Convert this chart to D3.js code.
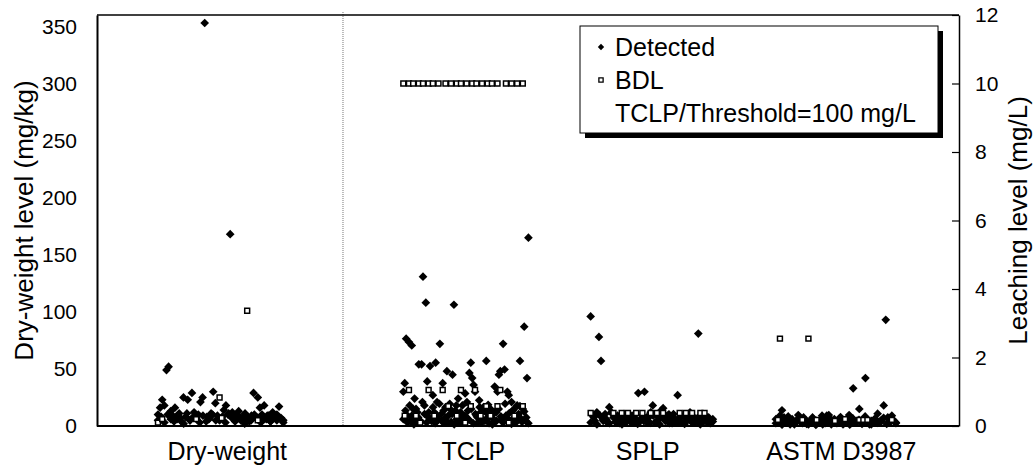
<!DOCTYPE html>
<html>
<head>
<meta charset="utf-8">
<script src="https://cdn.jsdelivr.net/npm/d3@7"></script>
<style>
  body { margin: 0; background: #fff; }
  text { font-family: Arial, "Liberation Sans", sans-serif; fill: #000; }
</style>
</head>
<body>
<script>
const width = 1036;
const height = 470;

// categories along the x axis (positions are sample numbers)
const categories = ["Dry-weight", "TCLP", "SPLP", "ASTM D3987"];
const catLabelPos = [62, 179, 262, 354];
const catRange = [[29, 88.6], [145.7, 205.2], [234.8, 292.9], [322.9, 380]];
const separatorPos = 117;

const leftTicks = [0, 50, 100, 150, 200, 250, 300, 350];
const rightTicks = [0, 2, 4, 6, 8, 10, 12];

// Dry-weight (mg/kg)
const dwDetected = [10, 16, 23, 18, 49, 52, 13, 9, 16, 6, 11, 4, 25, 8, 23, 5, 29, 12, 7, 10,
  21, 25, 353, 8, 6, 11, 30, 20, 9, 5, 7, 14, 18, 10, 168, 12, 6, 9, 13, 5,
  8, 11, 6, 4, 9, 29, 7, 25, 16, 10, 18, 6, 9, 4, 12, 7, 10, 17, 7, 5];
const dwDetectedLow = [5, 8, 3, 10, 6, 4, 9, 7, 2, 11, 5, 8, 6, 3, 9, 4, 7, 10, 5, 6,
  8, 3, 11, 7, 4, 9, 6, 2, 8, 5, 10, 7, 3, 6, 9, 4, 8, 5, 7, 3];
const dwBdl = [[0, 3], [2, 6], [18, 6], [29, 25], [30, 7], [42, 101], [47, 5]];

// TCLP (mg/L)
const tclpDetected = [1.0, 1.25, 2.55, 0.3, 2.45, 0.15, 2.35, 0.5, 0.8, 0.2,
  0.4, 1.8, 0.1, 1.8, 4.36, 0.6, 3.6, 1.3, 0.25, 1.75,
  0.15, 0.9, 0.4, 1.85, 0.7, 0.2, 2.4, 0.35, 1.25, 0.1,
  0.55, 1.6, 0.3, 0.65, 0.12, 1.5, 3.54, 0.45, 0.2, 0.8,
  0.1, 0.3, 0.6, 0.15, 0.95, 0.25, 0.45, 1.55, 1.85, 1.4,
  1.2, 1.0, 0.3, 0.1, 0.75, 0.4, 0.2, 0.55, 0.15, 1.9,
  0.35, 0.08, 0.5, 0.25, 0.12, 1.15, 0.4, 1.0, 1.5, 1.6,
  0.2, 2.4, 1.65, 0.3, 1.0, 0.9, 0.15, 0.7, 0.45, 0.25,
  0.1, 0.6, 0.35, 1.9, 0.2, 0.5, 2.9, 0.15, 1.4, 5.5];
const tclpDetectedLow = [0.2, 0.45, 0.1, 0.6, 0.3, 0.05, 0.5, 0.25, 0.15, 0.7,
  0.35, 0.1, 0.4, 0.2, 0.55, 0.08, 0.3, 0.65, 0.15, 0.45,
  0.25, 0.1, 0.5, 0.35, 0.05, 0.6, 0.2, 0.4, 0.12, 0.3,
  0.7, 0.18, 0.5, 0.08, 0.35, 0.25, 0.55, 0.1, 0.45, 0.2,
  0.62, 0.3, 0.05, 0.4, 0.15, 0.5, 0.28, 0.1, 0.65, 0.22,
  0.38, 0.06, 0.48, 0.18, 0.3, 0.58, 0.12, 0.42, 0.25, 0.08];
const tclpBdl = [[0, 10], [4, 10], [7, 10], [11, 10], [14, 10], [18, 10], [21, 10], [25, 10],
  [30, 10], [34, 10], [38, 10], [41, 10], [45, 10], [49, 10], [52, 10], [56, 10], [60, 10], [63, 10], [67, 10],
  [73, 10], [77, 10], [81, 10], [85, 10],
  [4, 1.05], [18, 1.05], [28, 1.05], [41, 1.05], [51, 1.05], [69, 1.05],
  [32, 0.58], [48, 0.58], [59, 0.58], [67, 0.58], [85, 0.58],
  [1, 0.3], [9, 0.3], [22, 0.3], [38, 0.3], [55, 0.3], [62, 0.3], [79, 0.3],
  [12, 0.1], [44, 0.1], [75, 0.1]];

// SPLP (mg/L)
const splpDetected = [3.2, 0.3, 0.15, 0.4, 2.6, 1.9, 0.2, 0.35, 0.1, 0.55,
  0.4, 0.25, 0.12, 0.3, 0.08, 0.2, 0.35, 0.1, 0.25, 0.15,
  0.3, 0.1, 0.2, 0.96, 0.15, 0.3, 1.0, 0.12, 0.25, 0.4,
  0.6, 0.1, 0.3, 0.2, 0.45, 0.52, 0.15, 0.3, 0.08, 0.2,
  0.35, 0.12, 0.9, 0.25, 0.1, 0.3, 0.15, 0.2, 0.4, 0.1,
  0.25, 0.15, 2.7, 0.3, 0.1, 0.2, 0.12, 0.25, 0.08, 0.13];
const splpDetectedLow = [0.1, 0.25, 0.05, 0.3, 0.15, 0.2, 0.08, 0.35, 0.12, 0.22,
  0.05, 0.28, 0.18, 0.1, 0.32, 0.06, 0.2, 0.14, 0.26, 0.09,
  0.3, 0.12, 0.05, 0.24, 0.16, 0.34, 0.08, 0.2, 0.11, 0.28,
  0.06, 0.18, 0.3, 0.1, 0.22, 0.05, 0.15, 0.27, 0.09, 0.2];
const splpBdl = [[0, 0.38], [11, 0.38], [15, 0.38], [18, 0.38], [22, 0.38], [25, 0.38], [29, 0.38],
  [32, 0.38], [35, 0.38], [43, 0.38], [46, 0.38], [49, 0.38], [53, 0.38], [55, 0.38]];

// ASTM D3987 (mg/L)
const astmDetected = [0.2, 0.1, 0.3, 0.46, 0.25, 0.1, 0.15, 0.05, 0.2, 0.1,
  0.15, 0.32, 0.2, 0.08, 0.1, 0.15, 0.05, 0.12, 0.25, 0.08,
  0.15, 0.1, 0.2, 0.05, 0.15, 0.3, 0.32, 0.2, 0.1, 0.15,
  0.08, 0.2, 0.12, 0.05, 0.15, 0.1, 0.32, 0.2, 1.1, 0.1,
  0.15, 0.5, 0.08, 0.2, 1.4, 0.1, 0.05, 0.15, 0.12, 0.2,
  0.36, 0.1, 0.15, 0.6, 3.1, 0.25, 0.1, 0.3, 0.15, 0.08];
const astmDetectedLow = [0.08, 0.2, 0.04, 0.15, 0.28, 0.1, 0.05, 0.18, 0.12, 0.25,
  0.06, 0.14, 0.22, 0.03, 0.1, 0.3, 0.08, 0.16, 0.05, 0.2,
  0.12, 0.26, 0.07, 0.15, 0.04, 0.22, 0.1, 0.18, 0.06, 0.28,
  0.12, 0.05, 0.2, 0.09, 0.15, 0.24, 0.06, 0.13, 0.19, 0.1];
const astmBdl = [[2, 2.55], [16, 2.55], [1, 0.18], [13, 0.18], [20, 0.18], [29, 0.15], [34, 0.2],
  [41, 0.18], [43, 0.18], [45, 0.18], [57, 0.18]];

const legendItems = ["Detected", "BDL", "TCLP/Threshold=100 mg/L"];

const margin = {top: 15, right: 77, bottom: 44, left: 97};

const svg = d3.select("body")
    .append("svg")
    .attr("width", width)
    .attr("height", height);

let x = d3.scaleLinear()
    .domain([0, 410])
    .range([margin.left, width - margin.right]);

let yLeft = d3.scaleLinear()
    .domain([0, 360])
    .range([height - margin.bottom, margin.top]);

let yRight = d3.scaleLinear()
    .domain([0, 12])
    .range([height - margin.bottom, margin.top]);

// index inside each category spread across its range
function spread(cat, n) {
    let r = catRange[cat];
    return i => r[0] + (r[1] - r[0]) * i / (n - 1);
}

let groups = [
    {det: dwDetected, low: dwDetectedLow, bdl: dwBdl, y: yLeft},
    {det: tclpDetected, low: tclpDetectedLow, bdl: tclpBdl, y: yRight},
    {det: splpDetected, low: splpDetectedLow, bdl: splpBdl, y: yRight},
    {det: astmDetected, low: astmDetectedLow, bdl: astmBdl, y: yRight}
];

let detPoints = [];
let bdlPoints = [];
groups.forEach(function(g, c) {
    let pos = spread(c, g.det.length);
    let posLow = spread(c, g.low.length);
    g.low.forEach(function(v, i) {
        detPoints.push({x: posLow(i), v: v, y: g.y});
    });
    g.det.forEach(function(v, i) {
        detPoints.push({x: pos(i), v: v, y: g.y});
    });
    g.bdl.forEach(function(d) {
        bdlPoints.push({x: pos(d[0]), v: d[1], y: g.y});
    });
});

// separator line
svg.append("line")
    .attr("x1", x(separatorPos)).attr("x2", x(separatorPos))
    .attr("y1", margin.top - 3).attr("y2", height - margin.bottom)
    .attr("stroke", "#777")
    .attr("stroke-width", 1)
    .attr("stroke-dasharray", "1,1");

// frame top
svg.append("line")
    .attr("x1", x(0)).attr("x2", x(410))
    .attr("y1", yLeft(360)).attr("y2", yLeft(360))
    .attr("stroke", "#000")
    .attr("stroke-width", 1.5);

// axes
let leftAxis = svg.append("g")
    .attr("transform", "translate(" + margin.left + ",0)")
    .call(d3.axisLeft(yLeft).tickValues(leftTicks).tickSize(0).tickPadding(20));
leftAxis.select(".domain").attr("stroke", "#000").attr("stroke-width", 2);
leftAxis.selectAll("text").style("font-size", "21px");

let rightAxis = svg.append("g")
    .attr("transform", "translate(" + (width - margin.right) + ",0)")
    .call(d3.axisRight(yRight).tickValues(rightTicks).tickSize(-7).tickSizeOuter(0).tickPadding(16));
rightAxis.select(".domain").attr("stroke", "#000").attr("stroke-width", 1.5);
rightAxis.selectAll("line").attr("stroke", "#000").attr("stroke-width", 1.2);
rightAxis.selectAll("text").style("font-size", "21px");

svg.append("line")
    .attr("x1", x(0)).attr("x2", x(410))
    .attr("y1", yLeft(0)).attr("y2", yLeft(0))
    .attr("stroke", "#000")
    .attr("stroke-width", 2);

// category labels
svg.selectAll(".cat")
    .data(categories)
    .enter()
    .append("text")
    .attr("class", "cat")
    .attr("x", (d, i) => x(catLabelPos[i]))
    .attr("y", height - 10)
    .attr("text-anchor", "middle")
    .style("font-size", "25px")
    .text(d => d);

// axis titles
svg.append("text")
    .attr("transform", "translate(33," + (height - margin.bottom + margin.top) / 2 + ") rotate(-90)")
    .attr("text-anchor", "middle")
    .style("font-size", "26px")
    .text("Dry-weight level (mg/kg)");

svg.append("text")
    .attr("transform", "translate(1027," + (height - margin.bottom + margin.top) / 2 + ") rotate(-90)")
    .attr("text-anchor", "middle")
    .style("font-size", "26px")
    .text("Leaching level (mg/L)");

// points
let diamond = d3.symbol().type(d3.symbolSquare).size(38);
let square = d3.symbol().type(d3.symbolSquare).size(24);

svg.append("g")
    .selectAll("path")
    .data(detPoints)
    .enter()
    .append("path")
    .attr("d", diamond)
    .attr("transform", d => "translate(" + x(d.x) + "," + d.y(d.v) + ") rotate(45)")
    .attr("fill", "#000");

svg.append("g")
    .selectAll("path")
    .data(bdlPoints)
    .enter()
    .append("path")
    .attr("d", square)
    .attr("transform", d => "translate(" + x(d.x) + "," + d.y(d.v) + ")")
    .attr("fill", "#fff")
    .attr("stroke", "#000")
    .attr("stroke-width", 1.5);

// legend
let legend = svg.append("g")
    .attr("transform", "translate(580,26)");

legend.append("rect")
    .attr("x", 5).attr("y", 5)
    .attr("width", 358).attr("height", 107)
    .attr("fill", "#000");

legend.append("rect")
    .attr("width", 358).attr("height", 107)
    .attr("fill", "#fff")
    .attr("stroke", "#000")
    .attr("stroke-width", 1);

legend.selectAll(".leg")
    .data(legendItems)
    .enter()
    .append("text")
    .attr("class", "leg")
    .attr("x", 35)
    .attr("y", (d, i) => 30 + i * 33)
    .style("font-size", "25px")
    .text(d => d);

legend.append("path")
    .attr("d", d3.symbol().type(d3.symbolSquare).size(20))
    .attr("transform", "translate(21,21) rotate(45)")
    .attr("fill", "#000");

legend.append("path")
    .attr("d", d3.symbol().type(d3.symbolSquare).size(18))
    .attr("transform", "translate(21,54)")
    .attr("fill", "#fff")
    .attr("stroke", "#000")
    .attr("stroke-width", 1.3);
</script>
</body>
</html>
